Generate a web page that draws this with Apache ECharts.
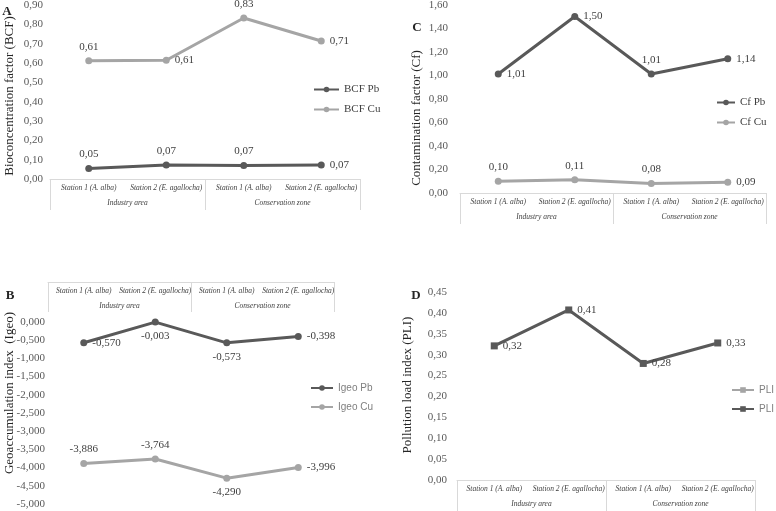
<!DOCTYPE html>
<html>
<head>
<meta charset="utf-8">
<script src="https://cdn.jsdelivr.net/npm/echarts@6/dist/echarts.min.js"></script>
<style>
  html, body { margin: 0; padding: 0; background: #fff; }
  #chart { width: 776px; height: 511px; }
</style>
</head>
<body>
<div id="chart"></div>
<script>
// categories
const stations = ['Station 1 (A. alba)', 'Station 2 (E. agallocha)', 'Station 1 (A. alba)', 'Station 2 (E. agallocha)'];
const zones = ['Industry area', 'Conservation zone'];

// A - bioconcentration factor
const bcfPb = [0.054, 0.072, 0.070, 0.073];
const bcfCu = [0.611, 0.614, 0.833, 0.714];
// C - contamination factor
const cfPb = [1.013, 1.502, 1.013, 1.142];
const cfCu = [0.100, 0.112, 0.080, 0.092];
// B - geoaccumulation index
const igeoPb = [-0.570, -0.003, -0.573, -0.398];
const igeoCu = [-3.886, -3.764, -4.290, -3.996];
// D - pollution load index
const pli = [0.321, 0.407, 0.279, 0.328];

// value ticks
const ticksA = { min: 0, max: 0.9, interval: 0.1, digits: 2 };
const ticksC = { min: 0, max: 1.6, interval: 0.2, digits: 2 };
const ticksB = { min: -5, max: 0, interval: 0.5, digits: 3 };
const ticksD = { min: 0, max: 0.45, interval: 0.05, digits: 2 };

const serif = '"Liberation Serif", "Times New Roman", serif';
const sans = '"Liberation Sans", Arial, sans-serif';
const dark = '#595959';
const light = '#a5a5a5';
const boxLine = '#d9d9d9';
const textCol = '#404040';

function comma(v, d) {
  return v.toFixed(d).replace('.', ',').replace('-0,000', '0,000');
}

function lineSeries(name, values, pos, gi, color, digits, extra) {
  return Object.assign({
    name: name,
    type: 'line',
    xAxisIndex: gi * 2,
    yAxisIndex: gi,
    data: values.map((v, i) => ({ value: v, label: { position: pos[i] } })),
    symbol: 'circle',
    symbolSize: 7,
    lineStyle: { color: color, width: 3 },
    itemStyle: { color: color },
    label: {
      show: true, fontFamily: serif, fontSize: 11, color: textCol, distance: 5,
      formatter: p => comma(p.value, digits)
    },
    animation: false
  }, extra || {});
}

function valueAxis(gi, t, margin) {
  return {
    gridIndex: gi, type: 'value', min: t.min, max: t.max, interval: t.interval,
    axisLine: { show: false }, axisTick: { show: false }, splitLine: { show: false },
    axisLabel: {
      margin: margin, fontFamily: serif, fontSize: 11, color: dark,
      formatter: v => comma(v, t.digits)
    }
  };
}

function catAxes(gi, top) {
  const common = {
    gridIndex: gi, type: 'category', boundaryGap: true,
    position: top ? 'top' : 'bottom', offset: top ? 40 : 0
  };
  const lbl = { fontFamily: serif, fontStyle: 'italic', fontSize: 7.5, color: textCol, interval: 0, inside: !!top };
  return [
    Object.assign({}, common, {
      data: stations,
      axisLine: { show: true, onZero: false, lineStyle: { color: boxLine, width: 1 } },
      axisTick: { show: false },
      axisLabel: Object.assign({}, lbl, { margin: 5 })
    }),
    Object.assign({}, common, {
      data: zones,
      axisLine: { show: false, onZero: false },
      axisTick: { show: true, inside: !!top, length: top ? 30 : 31, lineStyle: { color: boxLine, width: 1 } },
      axisLabel: Object.assign({}, lbl, { margin: 20 })
    })
  ];
}

function legend(names, left, top, font, size, col, w) {
  return {
    data: names, left: left, top: top, orient: 'vertical', padding: 0,
    itemWidth: w, itemHeight: 7, itemGap: 9,
    textStyle: { fontFamily: font, fontSize: size, color: col }
  };
}

function txt(x, y, s, rot, font) {
  return {
    type: 'text', x: x, y: y, rotation: rot,
    style: { text: s, font: font, fill: '#262626', textAlign: 'center', textVerticalAlign: 'middle', align: 'center', verticalAlign: 'middle' }
  };
}

const chart = echarts.init(document.getElementById('chart'), null, { renderer: 'canvas' });

chart.setOption({
  animation: false,
  backgroundColor: '#fff',
  grid: [
    { left: 50, top: 5, width: 310, height: 174, outerBoundsMode: 'none' },
    { left: 460, top: 5, width: 306, height: 188, outerBoundsMode: 'none' },
    { left: 48, top: 322, width: 286, height: 182, outerBoundsMode: 'none' },
    { left: 457, top: 292, width: 298, height: 188, outerBoundsMode: 'none' }
  ],
  xAxis: [].concat(catAxes(0, false), catAxes(1, false), catAxes(2, true), catAxes(3, false)),
  yAxis: [
    valueAxis(0, ticksA, 7),
    valueAxis(1, ticksC, 12),
    valueAxis(2, ticksB, 3),
    valueAxis(3, ticksD, 10)
  ],
  legend: [
    legend(['BCF Pb', 'BCF Cu'], 313, 84, serif, 11, textCol, 25),
    legend(['Cf Pb', 'Cf Cu'], 716, 97, serif, 11, textCol, 18),
    legend(['Igeo Pb', 'Igeo Cu'], 310, 383, sans, 10, '#7f7f7f', 22),
    legend(['PLI', 'PLI '], 731, 385, sans, 10, '#7f7f7f', 22)
  ],
  graphic: [
    txt(7, 12, 'A', 0, 'bold 13px ' + serif),
    txt(417, 28, 'C', 0, 'bold 13px ' + serif),
    txt(10, 296, 'B', 0, 'bold 13px ' + serif),
    txt(416, 296, 'D', 0, 'bold 13px ' + serif),
    txt(10, 96, 'Bioconcentration factor (BCF)', Math.PI / 2, '13px ' + serif),
    txt(417, 118, 'Contamination factor (Cf)', Math.PI / 2, '13px ' + serif),
    txt(10, 393, 'Geoaccumulation index  (Igeo)', Math.PI / 2, '13px ' + serif),
    txt(408, 385, 'Pollution load index (PLI)', Math.PI / 2, '13px ' + serif)
  ],
  series: [
    lineSeries('BCF Pb', bcfPb, ['top', 'top', 'top', 'right'], 0, dark, 2),
    lineSeries('BCF Cu', bcfCu, ['top', 'right', 'top', 'right'], 0, light, 2),
    lineSeries('Cf Pb', cfPb, ['right', 'right', 'top', 'right'], 1, dark, 2),
    lineSeries('Cf Cu', cfCu, ['top', 'top', 'top', 'right'], 1, light, 2),
    lineSeries('Igeo Pb', igeoPb, ['right', 'bottom', 'bottom', 'right'], 2, dark, 3),
    lineSeries('Igeo Cu', igeoCu, ['top', 'top', 'bottom', 'right'], 2, light, 3),
    lineSeries('PLI', pli, ['right', 'right', 'right', 'right'], 3, light, 2,
      { symbol: 'rect', symbolSize: 6, lineStyle: { color: light, width: 1.5 }, label: { show: false } }),
    lineSeries('PLI ', pli, ['right', 'right', 'right', 'right'], 3, dark, 2, { symbol: 'rect', symbolSize: 7 })
  ]
});

window.addEventListener('resize', () => chart.resize());
</script>
</body>
</html>
